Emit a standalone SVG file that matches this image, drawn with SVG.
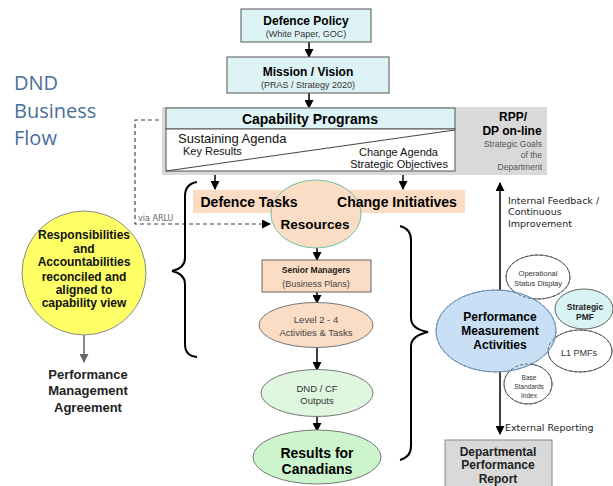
<svg xmlns="http://www.w3.org/2000/svg" width="613" height="486" viewBox="0 0 613 486">
  <style>
    .sans { font-family: "Liberation Sans", Arial, sans-serif; }
    .dj { font-family: "DejaVu Sans", Verdana, sans-serif; }
    .b { font-weight: bold; }
    .c { text-anchor: middle; }
    .r { text-anchor: end; }
    .box { fill: #ddf3f5; stroke: #555; stroke-width: 1; }
    .peach { fill: #fbdcc4; }
    .arrow { stroke: #000; stroke-width: 1.5; fill: none; marker-end: url(#head); }
    .sub { fill: #333; font-size: 9px; }
    .small { fill: #444; }
  </style>
  <defs>
    <marker id="head" markerWidth="9" markerHeight="9" refX="8" refY="4.5" orient="auto" markerUnits="userSpaceOnUse">
      <path d="M0,0 L9,4.5 L0,9 Z" fill="#000"/>
    </marker>
    <marker id="headGrey" markerWidth="9" markerHeight="9" refX="8" refY="4.5" orient="auto" markerUnits="userSpaceOnUse">
      <path d="M0,0 L9,4.5 L0,9 Z" fill="#666"/>
    </marker>
  </defs>

  <rect width="613" height="486" fill="#fff"/>

  <!-- Title -->
  <g id="title" fill="#4b6e99" font-family="'Open Sans', 'Noto Sans', sans-serif" font-size="20">
    <text x="14" y="90">DND</text>
    <text x="14" y="118">Business</text>
    <text x="14" y="145">Flow</text>
  </g>

  <!-- Connectors -->
  <g id="connectors">
    <line class="arrow" x1="309" y1="42" x2="309" y2="57"/>
    <line class="arrow" x1="309" y1="93" x2="309" y2="108"/>
    <line class="arrow" x1="215" y1="175" x2="215" y2="189"/>
    <line class="arrow" x1="403" y1="175" x2="403" y2="189"/>
    <line class="arrow" x1="317" y1="248" x2="317" y2="260"/>
    <line class="arrow" x1="317" y1="292" x2="317" y2="303"/>
    <line class="arrow" x1="317" y1="347" x2="317" y2="370"/>
    <line class="arrow" x1="317" y1="416" x2="317" y2="431"/>
    <line class="arrow" x1="500" y1="290" x2="500" y2="183"/>
    <line class="arrow" x1="500" y1="372" x2="500" y2="434"/>
    <line x1="84" y1="335" x2="84" y2="362" stroke="#666" stroke-width="1.5" marker-end="url(#headGrey)"/>
    <!-- dashed link from capability programs to resources -->
    <path d="M166,120 H135 V224 H270" fill="none" stroke="#444" stroke-width="1.2" stroke-dasharray="4,3" marker-end="url(#head)"/>
    <!-- braces -->
    <path d="M197,182 Q185,184 185,196 V258 Q185,268 172,271 Q185,274 185,284 V344 Q185,356 197,357" fill="none" stroke="#000" stroke-width="2"/>
    <path d="M400,226 Q411,229 411,240 V318 Q411,329 428,332 Q411,336 411,346 V446 Q411,457 400,460" fill="none" stroke="#000" stroke-width="2"/>
  </g>

  <!-- Defence Policy -->
  <g id="defence-policy">
    <rect class="box" x="241" y="9" width="130" height="33"/>
    <text class="sans b c" x="306" y="25" font-size="12">Defence Policy</text>
    <text class="sans c sub" x="306" y="37">(White Paper, GOC)</text>
  </g>

  <!-- Mission / Vision -->
  <g id="mission-vision">
    <rect class="box" x="227" y="57" width="162" height="36"/>
    <text class="sans b c" x="308" y="76" font-size="12">Mission / Vision</text>
    <text class="sans c sub" x="308" y="88">(PRAS / Strategy 2020)</text>
  </g>

  <!-- Capability Programs -->
  <g id="capability-programs">
    <rect x="162" y="107" width="385" height="68" fill="#d9d9d9"/>
    <rect class="box" x="166" y="108" width="289" height="21"/>
    <rect x="166" y="129" width="289" height="42" fill="#fff" stroke="#555" stroke-width="1"/>
    <line x1="166" y1="171" x2="455" y2="130" stroke="#444" stroke-width="1"/>
    <text class="sans b c" x="310" y="124" font-size="14">Capability Programs</text>
    <text class="sans" x="178" y="143" font-size="13" fill="#111">Sustaining Agenda</text>
    <text class="sans" x="183" y="155" font-size="11" fill="#111">Key Results</text>
    <text class="sans r" x="438" y="156" font-size="11" fill="#111">Change Agenda</text>
    <text class="sans r" x="448" y="168" font-size="11" fill="#111">Strategic Objectives</text>
  </g>

  <!-- RPP / DP on-line -->
  <g id="rpp-dp">
    <text class="sans b c" x="513" y="121" font-size="12">RPP/</text>
    <text class="sans b c" x="512" y="135" font-size="12">DP on-line</text>
    <text class="sans r" x="542" y="147" font-size="8.5" fill="#555">Strategic Goals</text>
    <text class="sans r" x="542" y="158" font-size="8.5" fill="#555">of the</text>
    <text class="sans r" x="542" y="170" font-size="8.5" fill="#555">Department</text>
  </g>

  <!-- Defence Tasks / Change Initiatives band with Resources -->
  <g id="tasks-initiatives">
    <rect class="peach" x="193" y="190" width="272" height="23"/>
  </g>
  <g id="resources">
    <ellipse class="peach" cx="316" cy="214" rx="45" ry="34" stroke="#6cc4a4" stroke-width="1"/>
    <text class="sans b c" x="249" y="207" font-size="14">Defence Tasks</text>
    <text class="sans b c" x="397" y="207" font-size="14">Change Initiatives</text>
    <text class="sans b c" x="315" y="229" font-size="13.5">Resources</text>
  </g>

  <!-- via ARLU label -->
  <text class="dj" x="138" y="221" font-size="8" fill="#666">via ARLU</text>

  <!-- Senior Managers -->
  <g id="senior-managers">
    <rect class="peach" x="262" y="260" width="109" height="32" stroke="#666" stroke-width="1"/>
    <text class="sans b c" x="316" y="273" font-size="8.5" fill="#222">Senior Managers</text>
    <text class="sans c small" x="316" y="287" font-size="9">(Business Plans)</text>
  </g>

  <!-- Level 2-4 -->
  <g id="level-2-4">
    <ellipse class="peach" cx="316" cy="325" rx="57" ry="22.5" stroke="#777" stroke-width="1"/>
    <text class="sans c small" x="316" y="323" font-size="9.5">Level 2 - 4</text>
    <text class="sans c small" x="316" y="336" font-size="9.5">Activities &amp; Tasks</text>
  </g>

  <!-- DND / CF Outputs -->
  <g id="dnd-cf-outputs">
    <ellipse cx="317" cy="393" rx="56" ry="23.5" fill="#dff6df" stroke="#777" stroke-width="1"/>
    <text class="sans c" x="317" y="392" font-size="9.5" fill="#333">DND / CF</text>
    <text class="sans c" x="317" y="404" font-size="9.5" fill="#333">Outputs</text>
  </g>

  <!-- Results for Canadians -->
  <g id="results-for-canadians">
    <ellipse cx="317" cy="457" rx="64" ry="27" fill="#cdf5cd" stroke="#777" stroke-width="1"/>
    <text class="sans b c" x="317" y="458" font-size="14">Results for</text>
    <text class="sans b c" x="317" y="474" font-size="14">Canadians</text>
  </g>

  <!-- Responsibilities and Accountabilities -->
  <g id="responsibilities">
    <circle cx="84" cy="273" r="62" fill="#ffff66" stroke="#888" stroke-width="1"/>
    <g class="sans b c" font-size="12" fill="#111">
      <text x="84" y="239">Responsibilities</text>
      <text x="84" y="253">and</text>
      <text x="84" y="266">Accountabilities</text>
      <text x="84" y="281">reconciled and</text>
      <text x="84" y="294">aligned to</text>
      <text x="84" y="307">capability view</text>
    </g>
  </g>

  <!-- Performance Management Agreement -->
  <g id="performance-agreement" class="sans b c" font-size="13" fill="#222">
    <text x="88" y="379">Performance</text>
    <text x="88" y="395">Management</text>
    <text x="88" y="412">Agreement</text>
  </g>

  <!-- Internal feedback label -->
  <g id="feedback-label" class="dj" font-size="9.5" fill="#222">
    <text x="508" y="204">Internal Feedback /</text>
    <text x="508" y="215">Continuous</text>
    <text x="508" y="227">Improvement</text>
  </g>

  <!-- Performance Measurement Activities cluster -->
  <g id="performance-measurement">
    <ellipse cx="538" cy="277" rx="32" ry="22" fill="#fff" stroke="#555" stroke-width="0.9"/>
    <ellipse cx="580" cy="351" rx="32" ry="21" fill="#fff" stroke="#555" stroke-width="0.9"/>
    <ellipse cx="528" cy="384" rx="24" ry="20" fill="#fff" stroke="#555" stroke-width="0.9"/>
    <ellipse cx="496" cy="331" rx="60" ry="41" fill="#c9dff5" stroke="#6a8fb5" stroke-width="1"/>
    <ellipse cx="584" cy="309" rx="29" ry="20" fill="#d7f3f4" stroke="#555" stroke-width="0.9"/>
    <g fill="none" stroke="#555" stroke-width="0.9" stroke-dasharray="3,2">
      <ellipse cx="538" cy="277" rx="32" ry="22"/>
      <ellipse cx="580" cy="351" rx="32" ry="21"/>
      <ellipse cx="528" cy="384" rx="24" ry="20"/>
      <ellipse cx="496" cy="331" rx="60" ry="41" stroke="#6a8fb5"/>
    </g>
    <text class="sans b c" x="500" y="321" font-size="12">Performance</text>
    <text class="sans b c" x="500" y="335" font-size="12">Measurement</text>
    <text class="sans b c" x="500" y="349" font-size="12">Activities</text>
    <text class="sans c" x="538" y="276" font-size="7.5" fill="#333">Operational</text>
    <text class="sans c" x="538" y="286" font-size="7.5" fill="#333">Status Display</text>
    <text class="sans b c" x="585" y="310" font-size="8.5" fill="#222">Strategic</text>
    <text class="sans b c" x="585" y="320" font-size="8.5" fill="#222">PMF</text>
    <text class="sans c" x="579" y="356" font-size="9" fill="#333">L1 PMFs</text>
    <text class="sans c" x="529" y="380" font-size="6.5" fill="#333">Base</text>
    <text class="sans c" x="529" y="389" font-size="6.5" fill="#333">Standards</text>
    <text class="sans c" x="529" y="398" font-size="6.5" fill="#333">Index</text>
  </g>

  <!-- External reporting label -->
  <text class="dj" x="505" y="431" font-size="9.5" fill="#222">External Reporting</text>

  <!-- Departmental Performance Report -->
  <g id="departmental-report">
    <rect x="445" y="440" width="107" height="50" fill="#d9d9d9" stroke="#888" stroke-width="1"/>
    <text class="sans b c" x="498" y="456" font-size="12" fill="#222">Departmental</text>
    <text class="sans b c" x="498" y="469" font-size="12" fill="#222">Performance</text>
    <text class="sans b c" x="498" y="483" font-size="12" fill="#222">Report</text>
  </g>
</svg>
